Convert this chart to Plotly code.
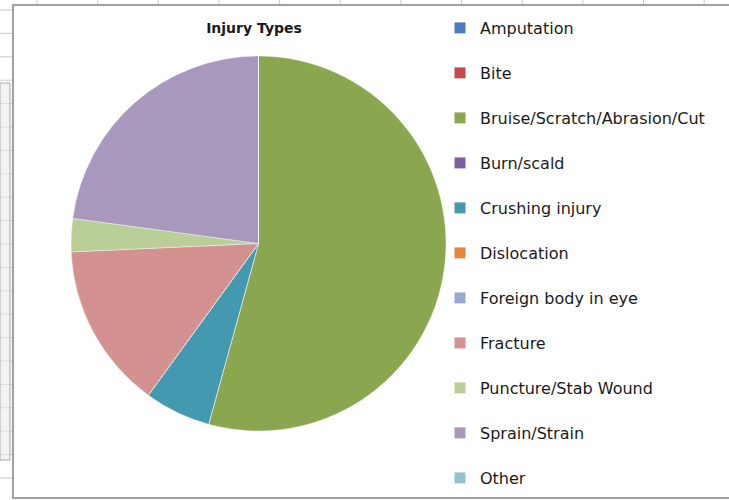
import plotly.graph_objects as go

# ---- data ----
categories = ["Amputation", "Bite", "Bruise/Scratch/Abrasion/Cut", "Burn/scald",
              "Crushing injury", "Dislocation", "Foreign body in eye", "Fracture",
              "Puncture/Stab Wound", "Sprain/Strain", "Other"]
counts = [0, 0, 19, 0, 2, 0, 0, 5, 1, 8, 0]
colors = ["#4A7EBB", "#BE4B48", "#8AA750", "#7D5FA0", "#4399AF", "#E8853D",
          "#93A9D0", "#D39190", "#B9CF97", "#A898BD", "#93C3D2"]
title_text = "Injury Types"

W, H = 729, 500
FONT = "'DejaVu Sans', sans-serif"


def px(x):
    return x / W


def py(y):
    return 1 - y / H


fig = go.Figure()

fig.add_trace(go.Pie(
    labels=categories, values=counts, sort=False, direction="clockwise",
    rotation=0, textinfo="none", hoverinfo="label+value+percent",
    marker=dict(colors=colors, line=dict(color="white", width=0.4)),
    showlegend=False,
    domain=dict(x=[px(71), px(446)], y=[py(431), py(56)]),
))

# legend entries (one per category, separate groups for even spacing)
for name, col in zip(categories, colors):
    fig.add_trace(go.Scatter(
        x=[None], y=[None], mode="markers", name=name, legendgroup=name,
        marker=dict(symbol="square", size=11, color=col),
        hoverinfo="skip",
    ))

# ---- decorative Excel-sheet background ----
shapes = []
grid = "#c9c9c9"
for i in range(12):
    x = 37 + 60.65 * i
    shapes.append(dict(type="line", xref="paper", yref="paper",
                       x0=px(x), x1=px(x), y0=py(0), y1=py(5),
                       line=dict(color=grid, width=1), layer="below"))
for k in range(22):
    y = 10 + 23.4 * k
    shapes.append(dict(type="line", xref="paper", yref="paper",
                       x0=0, x1=px(12), y0=py(y), y1=py(y),
                       line=dict(color=grid, width=1), layer="below"))
shapes.append(dict(type="rect", xref="paper", yref="paper",
                   x0=0, x1=px(10), y0=py(460), y1=py(83),
                   fillcolor="rgba(235,235,235,0.6)",
                   line=dict(color="#a8a8a8", width=1), layer="below"))
# chart area
shapes.append(dict(type="rect", xref="paper", yref="paper",
                   x0=px(13), x1=px(740), y0=py(498), y1=py(5),
                   fillcolor="white", line=dict(color="#a0a0a0", width=2),
                   layer="below"))

fig.update_layout(
    width=W, height=H,
    margin=dict(l=0, r=0, t=0, b=0),
    paper_bgcolor="white", plot_bgcolor="rgba(0,0,0,0)",
    shapes=shapes,
    title=dict(text="<b>" + title_text + "</b>", x=px(254), y=py(28),
               xanchor="center", yanchor="middle",
               font=dict(family=FONT, size=14, color="#1a1a1a")),
    xaxis=dict(visible=False, range=[0, 1]),
    yaxis=dict(visible=False, range=[0, 1]),
    legend=dict(x=px(440), y=py(11), xanchor="left", yanchor="top",
                tracegroupgap=21.2, traceorder="grouped",
                font=dict(family=FONT, size=16, color="#1a1a1a"),
                bgcolor="rgba(0,0,0,0)", borderwidth=0),
    showlegend=True,
)

fig.write_html("out.html", config={"displayModeBar": False},
               post_script="document.body.style.margin='0';")
